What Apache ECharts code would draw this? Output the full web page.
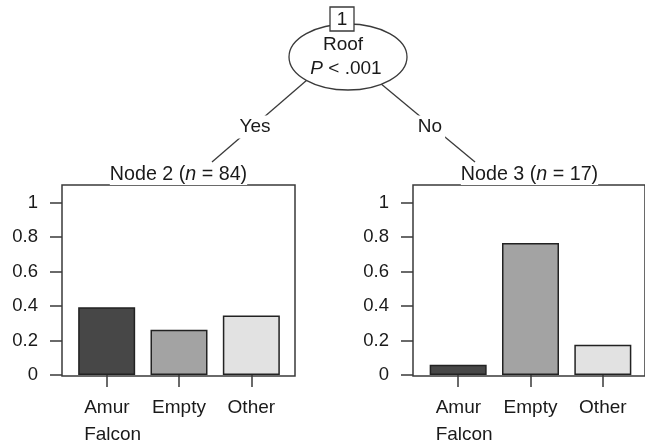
<!DOCTYPE html>
<html>
<head>
<meta charset="utf-8">
<script src="https://cdn.jsdelivr.net/npm/echarts@6/dist/echarts.min.js"></script>
<style>
  html, body { margin: 0; padding: 0; background: #fff; }
  #chart { width: 645px; height: 444px; }
</style>
</head>
<body>
<div id="chart"></div>
<script>
// Données (proportions par nœud terminal)
const categories = ['Amur\nFalcon', 'Empty', 'Other'];
const node2Values = [0.393, 0.262, 0.345];
const node3Values = [0.059, 0.765, 0.176];
const nodeNames = ['Node 2', 'Node 3'];
const nodeCounts = [84, 17];
const yTicks = [0, 0.2, 0.4, 0.6, 0.8, 1];
const splitVar = 'Roof';
const splitP = '.001';
const edgeLabels = ['Yes', 'No'];

const FONT = 'Liberation Sans, Arial, sans-serif';
const TXT = '#1a1a1a';
const LINE = '#3a3a3a';
const barColors = ['#474747', '#a3a3a3', '#e2e2e2'];

// Géométrie des deux panneaux
const panels = [
    { frameLeft: 62, barLeft: 70.5, values: node2Values },
    { frameLeft: 413, barLeft: 422, values: node3Values }
];
const TOP = 185, HEIGHT = 191, FRAME_W = 233, BAR_W = 217;

const labelRich = {
    l: { align: 'left', fontSize: 19, lineHeight: 27, color: TXT, fontFamily: FONT },
    // étiquette sur deux lignes : 1re ligne centrée, 2e alignée à gauche sur la 1re
    m: { align: 'left', fontSize: 19, lineHeight: 27, color: TXT, fontFamily: FONT, padding: [0, 0, 0, 12] }
};

const grid = [], xAxis = [], yAxis = [], series = [];

panels.forEach((p, k) =>
{
    const fi = k * 2, bi = k * 2 + 1;
    // cadre
    grid.push({ left: p.frameLeft, top: TOP, width: FRAME_W, height: HEIGHT,
        show: true, borderColor: LINE, borderWidth: 1.5, backgroundColor: 'transparent' });
    // zone des barres
    grid.push({ left: p.barLeft, top: TOP, width: BAR_W, height: HEIGHT });

    xAxis.push({ gridIndex: fi, type: 'value', show: false });
    yAxis.push({ gridIndex: fi, type: 'value', show: false, min: 0, max: 1 });

    xAxis.push({
        gridIndex: bi, type: 'category', data: categories,
        axisLine: { show: false },
        axisTick: { show: true, alignWithLabel: true, length: 12, lineStyle: { color: LINE, width: 1.5 } },
        axisLabel: {
            margin: 19, interval: 0,
            formatter: (v) =>
            {
                const lines = v.split('\n');
                const key = lines.length > 1 ? 'm' : 'l';
                return lines.map(s => '{' + key + '|' + s + '}').join('\n');
            },
            rich: labelRich
        }
    });
    yAxis.push({
        gridIndex: bi, type: 'value', min: 0, max: 1.102, offset: p.barLeft - p.frameLeft,
        axisLine: { show: false },
        splitLine: { show: false },
        axisTick: { show: true, length: 12, customValues: yTicks, lineStyle: { color: LINE, width: 1.5 } },
        axisLabel: { customValues: yTicks, margin: 24, fontSize: 18.5, color: TXT, fontFamily: FONT }
    });

    series.push({
        type: 'bar', xAxisIndex: bi, yAxisIndex: bi, barWidth: 57, silent: true,
        data: p.values.map((v, i) => ({ value: v, itemStyle: { color: barColors[i] } })),
        itemStyle: { borderColor: '#222', borderWidth: 1.5 }
    });
});

const textStyle = (extra) => Object.assign({
    fill: TXT, fontSize: 19, fontFamily: FONT, align: 'center', verticalAlign: 'middle'
}, extra);

const graphic = [
    // arêtes
    { type: 'line', z: 1, shape: { x1: 307, y1: 80, x2: 212, y2: 162 }, style: { stroke: LINE, lineWidth: 1.3 } },
    { type: 'line', z: 1, shape: { x1: 380, y1: 83, x2: 475, y2: 162 }, style: { stroke: LINE, lineWidth: 1.3 } },
    { type: 'text', z: 2, x: 255, y: 127, style: textStyle({ text: edgeLabels[0], backgroundColor: '#fff', padding: [2, 3] }) },
    { type: 'text', z: 2, x: 430, y: 127, style: textStyle({ text: edgeLabels[1], backgroundColor: '#fff', padding: [2, 3] }) },
    // nœud interne
    { type: 'ellipse', z: 3, shape: { cx: 348, cy: 57, rx: 59, ry: 33 }, style: { fill: '#fff', stroke: LINE, lineWidth: 1.3 } },
    { type: 'rect', z: 4, shape: { x: 330, y: 7, width: 24, height: 24 }, style: { fill: '#fff', stroke: LINE, lineWidth: 1.3 } },
    { type: 'text', z: 5, x: 342, y: 20, style: textStyle({ text: '1' }) },
    { type: 'text', z: 5, x: 343, y: 45, style: textStyle({ text: splitVar }) },
    { type: 'text', z: 5, x: 346, y: 69, style: textStyle({
        text: '{i|P}{a| < ' + splitP + '}',
        rich: { i: { fontStyle: 'italic', fontSize: 19, fontFamily: FONT, fill: TXT }, a: { fontSize: 19, fontFamily: FONT, fill: TXT } }
    }) }
];

// titres des nœuds terminaux
panels.forEach((p, k) =>
{
    graphic.push({ type: 'text', z: 5, x: p.frameLeft + FRAME_W / 2, y: 175, style: textStyle({
        text: '{a|' + nodeNames[k] + ' (}{i|n}{a| = ' + nodeCounts[k] + ')}',
        backgroundColor: '#fff',
        rich: { i: { fontStyle: 'italic', fontSize: 19.7, fontFamily: FONT, fill: TXT }, a: { fontSize: 19.7, fontFamily: FONT, fill: TXT } }
    }) });
});

const chart = echarts.init(document.getElementById('chart'));
chart.setOption({
    animation: false,
    backgroundColor: '#fff',
    grid, xAxis, yAxis, series, graphic
});
</script>
</body>
</html>
